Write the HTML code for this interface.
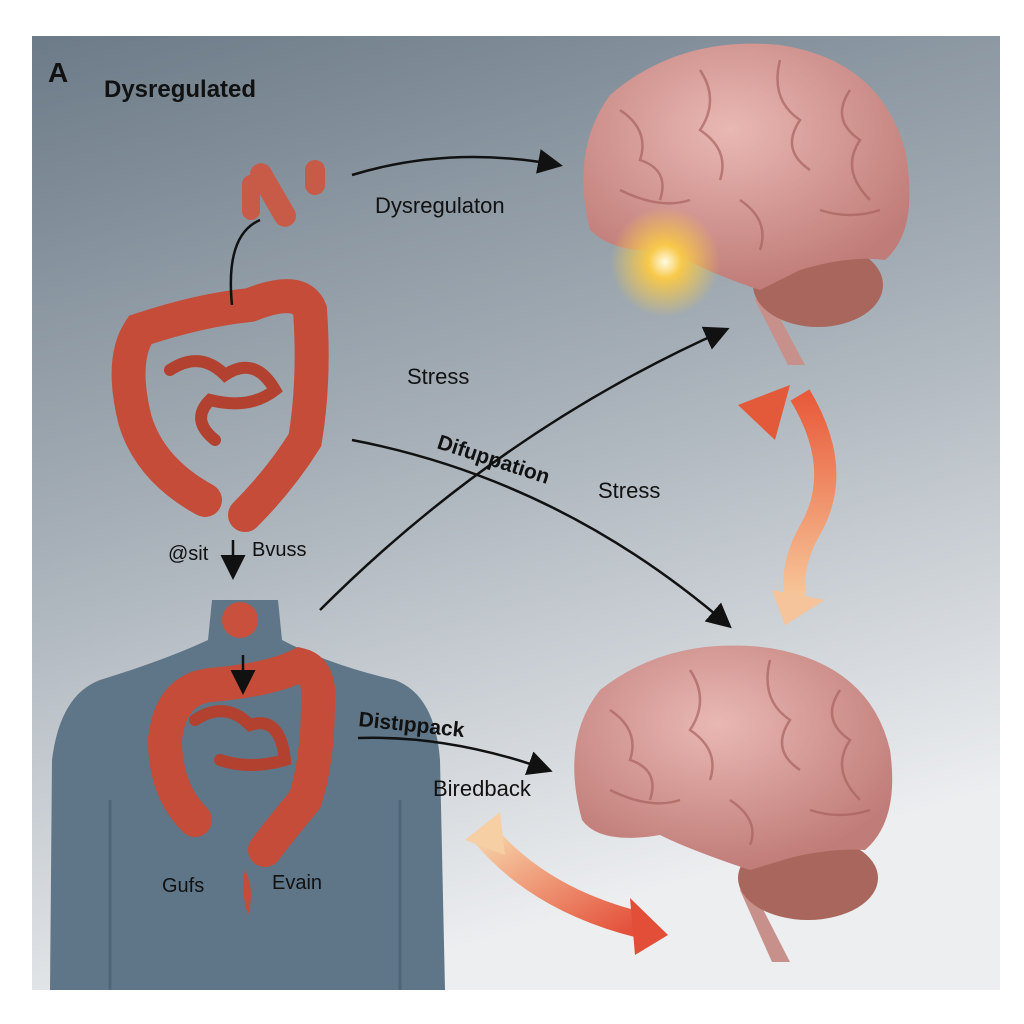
<!DOCTYPE html>
<html><head><style>
body{margin:0;background:#fff;width:1024px;height:1024px;overflow:hidden}
svg{display:block}
text{font-family:"Liberation Sans",sans-serif;fill:#111}
</style></head><body>
<svg width="1024" height="1024" viewBox="0 0 1024 1024">
<defs>
<linearGradient id="bg" x1="0" y1="0" x2="0.3" y2="1">
<stop offset="0" stop-color="#6c7b88"/><stop offset="0.5" stop-color="#a7b0b8"/><stop offset="1" stop-color="#eceef0"/></linearGradient>
<radialGradient id="br" cx="0.45" cy="0.35" r="0.65"><stop offset="0" stop-color="#e9b8b3"/><stop offset="1" stop-color="#c07c78"/></radialGradient>
<radialGradient id="gl" cx="0.5" cy="0.5" r="0.5"><stop offset="0" stop-color="#fffbe0"/><stop offset="0.3" stop-color="#f8c94a"/><stop offset="1" stop-color="#f8c94a" stop-opacity="0"/></radialGradient>
<linearGradient id="ar1" x1="0" y1="0" x2="0" y2="1"><stop offset="0" stop-color="#e85a3a"/><stop offset="1" stop-color="#f7c89a"/></linearGradient>
<linearGradient id="ar2" x1="0" y1="0" x2="1" y2="1"><stop offset="0" stop-color="#f7d3a8"/><stop offset="1" stop-color="#e4503a"/></linearGradient>
<marker id="m" markerWidth="10" markerHeight="10" refX="8" refY="5" orient="auto"><path d="M0,0 L10,5 L0,10 z" fill="#111"/></marker>
</defs>
<rect x="32" y="36" width="968" height="954" fill="url(#bg)"/>
<!-- torso -->
<path d="M212,600 L278,600 L282,640 Q330,665 395,680 Q435,695 440,760 L445,990 L50,990 L52,760 Q60,695 100,680 Q165,660 208,640 Z" fill="#5f7688"/>
<path d="M110,800 L110,990 M400,800 L400,990" stroke="#4f6575" stroke-width="3"/>
<!-- top gut -->
<g fill="none" stroke="#c44c38" stroke-width="34" stroke-linecap="round">
<path d="M205,500 Q150,470 135,420 Q120,360 140,330 Q200,310 250,305 Q300,285 310,310 Q315,380 305,440 Q280,480 245,515"/>
<path d="M195,820 Q165,790 165,740 Q170,690 210,685 Q270,680 300,665 Q320,670 318,700 Q318,760 305,800 Q280,830 265,850"/>
</g>
<g fill="none" stroke="#b2412f" stroke-width="12" stroke-linecap="round">
<path d="M170,370 Q200,350 225,375 Q255,355 275,390 Q250,410 210,400 Q190,420 215,440"/>
<path d="M195,720 Q225,700 250,725 Q280,715 285,760 Q250,770 220,760"/>
</g>
<path d="M245,870 Q255,890 248,915 Q240,890 245,870 Z" fill="#c44c38"/>
<!-- bacteria -->
<g fill="#c85a48"><rect x="262" y="160" width="22" height="70" rx="11" transform="rotate(-30 273 195)"/><rect x="242" y="175" width="18" height="45" rx="9"/><rect x="305" y="160" width="20" height="35" rx="10"/></g>
<circle cx="240" cy="620" r="18" fill="#c9503c"/>
<!-- brains -->
<path d="M765,290 L805,365 L788,365 L755,300 Z" fill="#c8908a"/>
<ellipse cx="818" cy="285" rx="65" ry="42" fill="#a8665c"/>
<path d="M590,230 Q570,150 610,95 Q680,35 780,45 Q880,60 905,150 Q920,230 885,260 Q850,255 800,270 L760,290 Q700,270 670,250 Q615,255 590,230 Z" fill="url(#br)"/>
<g fill="none" stroke="#a8625e" stroke-width="2.5" opacity="0.7">
<path d="M620,110 Q650,130 640,160 Q670,170 660,200 M700,70 Q720,100 700,130 Q730,150 720,180 M780,60 Q770,100 800,120 Q780,150 810,170 M850,90 Q830,120 860,140 Q840,170 870,200 M740,200 Q770,220 760,250 M620,190 Q660,210 690,200 M820,210 Q850,220 880,210"/>
</g>
<path d="M748,880 L790,962 L772,962 L740,890 Z" fill="#c8908a"/>
<ellipse cx="808" cy="878" rx="70" ry="42" fill="#a8665c"/>
<path d="M582,820 Q560,740 600,690 Q670,635 770,648 Q870,665 890,750 Q900,820 865,850 Q830,848 790,858 L750,870 Q690,850 660,835 Q600,845 582,820 Z" fill="url(#br)"/>
<g fill="none" stroke="#a8625e" stroke-width="2.5" opacity="0.7">
<path d="M610,710 Q640,730 630,760 Q660,770 650,800 M690,670 Q710,700 690,730 Q720,750 710,780 M770,660 Q760,700 790,720 Q770,750 800,770 M840,690 Q820,720 850,740 Q830,770 860,800 M730,800 Q760,820 750,845 M610,790 Q650,810 680,800 M810,810 Q840,820 870,810"/>
</g>
<circle cx="665" cy="262" r="55" fill="url(#gl)"/>
<!-- orange arrows -->
<path d="M800,395 Q845,470 810,530 Q790,565 795,600" fill="none" stroke="url(#ar1)" stroke-width="22"/>
<path d="M738,405 L790,385 L775,440 Z" fill="#e35a3a"/>
<path d="M772,590 L825,600 L785,625 Z" fill="#f5c49a"/>
<path d="M485,835 Q540,900 640,925" fill="none" stroke="url(#ar2)" stroke-width="26"/>
<path d="M465,840 L500,812 L505,855 Z" fill="#f6cfa4"/>
<path d="M630,898 L668,935 L635,955 Z" fill="#e24e38"/>
<!-- connectors -->
<g fill="none" stroke="#111" stroke-width="2.5" marker-end="url(#m)">
<path d="M352,175 Q450,145 558,165"/>
<path d="M232,305 Q225,235 260,220" marker-end="none"/>
<path d="M352,440 Q560,480 728,625"/>
<path d="M320,610 Q500,430 725,330"/>
<path d="M233,540 L233,575"/>
<path d="M243,655 L243,690"/>
<path d="M358,738 Q450,735 548,770"/>
</g>
<text x="48" y="82" font-size="28" font-weight="bold">A</text>
<text x="104" y="97" font-size="24" font-weight="bold">Dysregulated</text>
<text x="375" y="213" font-size="22">Dysregulaton</text>
<text x="407" y="384" font-size="22">Stress</text>
<text x="598" y="498" font-size="22">Stress</text>
<text x="436" y="448" font-size="21" font-weight="bold" transform="rotate(18 436 448)">Difuppation</text>
<text x="168" y="560" font-size="20">@sit</text>
<text x="252" y="556" font-size="20">Bvuss</text>
<text x="358" y="726" font-size="21" font-weight="bold" transform="rotate(6 358 726)">Distıppack</text>
<text x="433" y="796" font-size="22">Biredback</text>
<text x="162" y="892" font-size="20">Gufs</text>
<text x="272" y="889" font-size="20">Evain</text>
</svg>
</body></html>
